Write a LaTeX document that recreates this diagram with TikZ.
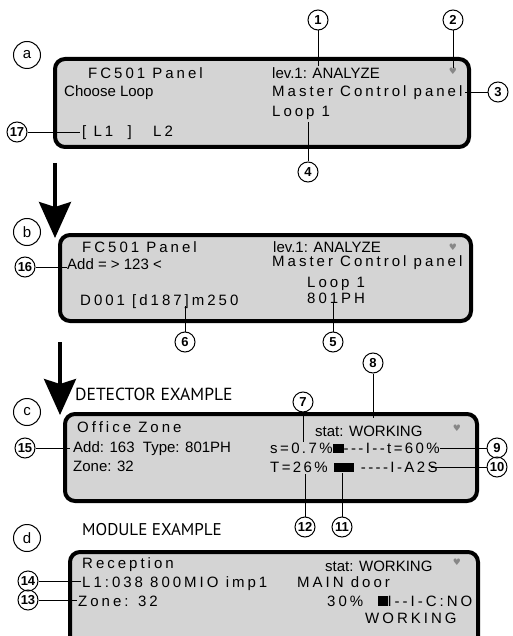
\documentclass[tikz,border=0pt]{standalone}
\usepackage{fontspec}
\setmainfont{Liberation Sans}[Ligatures=TeXOff]
\newfontfamily\lcdfont{Liberation Sans}[LetterSpace=20,Ligatures=TeXOff]
\newfontfamily\barfont{Liberation Sans}[LetterSpace=16,Ligatures=TeXOff]
\newfontfamily\headfont{PT Sans}
\newfontfamily\symfont{DejaVu Sans}
\usetikzlibrary{arrows.meta,positioning}

\definecolor{lcdgray}{RGB}{212,212,212}
\definecolor{heartgray}{RGB}{135,135,135}

\begin{document}
\begin{tikzpicture}[x=1pt,y=-1pt,
    panel/.style={draw,line width=4pt,rounded corners=10pt,fill=lcdgray},
    lcd/.style={anchor=base west,inner sep=0pt,font=\lcdfont\fontsize{15}{15}\selectfont},
    bar/.style={anchor=base west,inner sep=0pt,font=\barfont\fontsize{15}{15}\selectfont},
    txt/.style={anchor=base west,inner sep=0pt,font=\fontsize{15}{15}\selectfont},
    head/.style={anchor=base west,inner sep=0pt,font=\headfont\fontsize{17.5}{17.5}\selectfont},
    num/.style={draw,circle,line width=1pt,minimum size=20pt,inner sep=0pt,font=\bfseries\fontsize{13}{13}\selectfont},
    letter/.style={draw,circle,line width=1pt,minimum size=27pt,inner sep=0pt,font=\fontsize{15}{15}\selectfont},
    heart/.style={inner sep=0pt,text=heartgray,font=\symfont\fontsize{9}{9}\selectfont},
    leader/.style={line width=0.8pt},
    bigarrow/.style={line width=3.5pt,-{Stealth[length=36pt,width=32pt,inset=5pt]}}]

    \useasboundingbox (0,0) rectangle (512,636);
    \clip (0,0) rectangle (512,636);

    % Panel a
    \node[letter] (la) at (27,55) {a};
    \node[panel,minimum width=414pt,minimum height=88pt] (pa) at (262,103) {};
    \node[lcd] (afc) at (88,79) {FC501 Panel};
    \node[txt] (alev) at (272,79) {lev.1: ANALYZE};
    \node[heart] (aheart) at (453,71) {♥};
    \node[txt] (achoose) at (64,97) {Choose Loop};
    \node[lcd] (amaster) at (272,97) {Master Control panel};
    \node[lcd] (aloop) at (272,117) {Loop 1};
    \node[lcd] (aloops) at (82,137) {[ L1~~]~~~L2};

    % Panel b
    \node[letter] (lb) at (27,232) {b};
    \node[panel,minimum width=411pt,minimum height=86pt] (pb) at (265.5,278) {};
    \node[lcd] (bfc) at (82,252) {FC501 Panel};
    \node[txt] (blev) at (273,252) {lev.1: ANALYZE};
    \node[heart] (bheart) at (453,247) {♥};
    \node[txt] (badd) at (67,269) {Add = > 123 <};
    \node[lcd] (bmaster) at (272,266) {Master Control panel};
    \node[lcd] (bloop) at (307,287) {Loop 1};
    \node[lcd] (bdev) at (80,305) {D001 [d187]m250};
    \node[lcd] (btype) at (307,303) {801PH};

    % Panel c
    \node[head] (dethead) at (75,400) {DETECTOR EXAMPLE};
    \node[letter] (lc) at (27,412) {c};
    \node[panel,minimum width=412pt,minimum height=87pt] (pc) at (271,457.5) {};
    \node[lcd] (coffice) at (77,432) {Office Zone};
    \node[txt] (cadd) at (73,452) {Add: 163~~Type: 801PH};
    \node[txt] (czone) at (73,471) {Zone: 32};
    \node[txt] (cstat) at (315,436) {stat: WORKING};
    \node[heart] (cheart) at (457,428) {♥};
    \node[bar] (csens) at (270,453) {s=0.7\%\rule{11pt}{9.5pt}---I--t=60\%};
    \node[bar] (ctemp) at (270,472) {T=26\% \rule{20pt}{9pt} ----I-A2S};

    % Panel d
    \node[head,font=\headfont\fontsize{17}{17}\selectfont] (modhead) at (82,535) {MODULE EXAMPLE};
    \node[letter] (ld) at (27,538) {d};
    \node[panel,minimum width=408pt,minimum height=128pt] (pd) at (274,616) {};
    \node[lcd] (drecep) at (82,568) {Reception};
    \node[lcd] (dmod) at (82,587) {L1:038 800MIO imp1};
    \node[lcd] (dzone) at (78,606) {Zone: 32};
    \node[txt] (dstat) at (325,571) {stat: WORKING};
    \node[heart] (dheart) at (457,562) {♥};
    \node[lcd] (dmain) at (297,587) {MAIN door};
    \node[lcd] (dpct) at (327,606) {30\%~~\rule{10pt}{10pt}I--I-C:NO};
    \node[lcd] (dwork) at (365,623) {WORKING};

    % Flow arrows
    \coordinate (aflow) at (55,163);
    \coordinate (bflow) at (55,238);
    \coordinate (bflow2) at (60,342);
    \coordinate (cflow) at (60,415);
    \draw[bigarrow] (aflow) -- (bflow);
    \draw[bigarrow] (bflow2) -- (cflow);

    % Callouts
    \node[num] (n1) at (318,20) {1};
    \node[num] (n2) at (453,20) {2};
    \node[num] (n3) at (498,92) {3};
    \node[num] (n4) at (308,172) {4};
    \node[num] (n5) at (333,342) {5};
    \node[num] (n6) at (185,342) {6};
    \node[num] (n7) at (303,402) {7};
    \node[num] (n8) at (373,363) {8};
    \node[num] (n9) at (497,448) {9};
    \node[num] (n10) at (497,467) {10};
    \node[num] (n11) at (342,527) {11};
    \node[num] (n12) at (305,527) {12};
    \node[num] (n13) at (28,600) {13};
    \node[num] (n14) at (28,581) {14};
    \node[num] (n15) at (25,448) {15};
    \node[num] (n16) at (25,267) {16};
    \node[num] (n17) at (17,132) {17};

    \coordinate (t1) at (318,66);
    \coordinate (t3) at (465,92);
    \coordinate (t4) at (308,122);
    \coordinate (t5) at (333,303);
    \coordinate (t6) at (185,306);
    \coordinate (t7) at (303,442);
    \coordinate (t8) at (373,418);
    \coordinate (t9) at (440,448);
    \coordinate (t10) at (431,467);
    \coordinate (t11) at (342,473);
    \coordinate (t12) at (305,474);
    \coordinate (t13) at (77,600);
    \coordinate (t14) at (81,581);
    \coordinate (t15) at (70,448);
    \coordinate (t16) at (67,267);
    \coordinate (t17) at (80,132);

    \draw[leader] (n1) -- (t1);
    \draw[leader] (n2) -- (aheart.north);
    \foreach \k in {3,4,...,17} {
        \draw[leader] (n\k) -- (t\k);
    }

\end{tikzpicture}
\end{document}
